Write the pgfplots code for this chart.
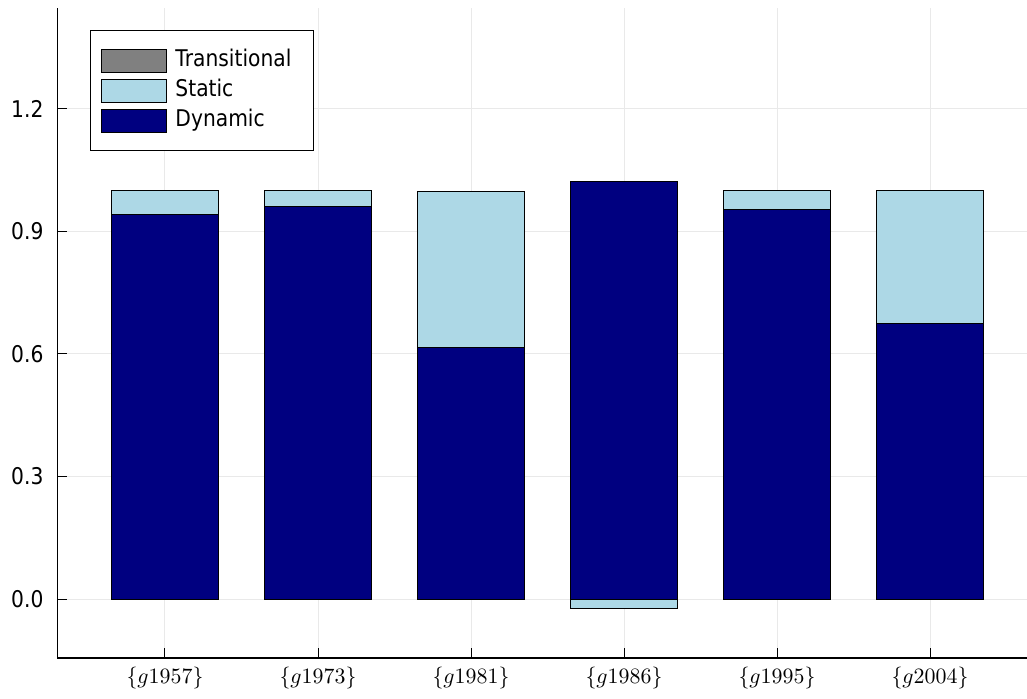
\documentclass[border=0pt]{standalone}
\usepackage{pgfplots}
\pgfplotsset{compat=1.18}
\usepackage{fontspec}
\newfontfamily\plotfont{DejaVu Sans}[FakeStretch=0.88]
\definecolor{jgray}{RGB}{128,128,128}
\definecolor{jlightblue}{RGB}{173,216,230}
\definecolor{jnavy}{RGB}{0,0,128}
\definecolor{gridgray}{RGB}{233,233,233}
\pgfplotsset{
  barleg/.style={legend image code/.code={\draw[##1] (0pt,-5.75pt) rectangle (32.5pt,5.75pt); \path (35pt,0pt);}},
  jbar/.style={bar shift=0pt, draw=black, line width=0.5pt, barleg},
}
\begin{document}
\begin{tikzpicture}
\begin{axis}[
  scale only axis, width=484.75pt, height=325pt,
  xmin=0.2974, xmax=6.634, ymin=-0.1442, ymax=1.4467,
  axis lines=left, axis line style={-, line width=0.6pt},
  ybar, bar width=0.7,
  xtick={1,2,3,4,5,6},
  xticklabels={$\{g1957\}$,$\{g1973\}$,$\{g1981\}$,$\{g1986\}$,$\{g1995\}$,$\{g2004\}$},
  x tick label style={font=\fontsize{11}{13}\selectfont, yshift=-1pt},
  ytick={0,0.3,0.6,0.9,1.2},
  y tick label style={font=\plotfont\fontsize{11.5}{13}\selectfont, xshift=-3.5pt},
  yticklabel style={/pgf/number format/fixed, /pgf/number format/fixed zerofill, /pgf/number format/precision=1, /pgf/number format/assume math mode=true},
  tick align=inside, major tick length=5pt, tick style={black, line width=0.5pt},
  grid=major, major grid style={gridgray, line width=0.5pt},
  legend cell align=left,
  legend style={at={(0.0335,0.966)}, anchor=north west, draw=black, line width=0.5pt,
    font=\plotfont\fontsize{11.5}{13}\selectfont,
    inner xsep=5.25pt, inner ysep=7.5pt, row sep=0pt,
    nodes={inner sep=1.75pt, text height=8.5pt, text depth=3pt}},
]
% Transitional (zero everywhere)
\addplot[jbar, fill=jgray] coordinates {(1,0) (2,0) (3,0) (4,0) (5,0) (6,0)};
\addlegendentry{Transitional\hspace*{4pt}}
% Static: top of the static block (negative for g1986)
\addplot[jbar, fill=jlightblue] coordinates {(1,1.0) (2,1.0) (3,0.998) (4,-0.022) (5,1.0) (6,1.0)};
\addlegendentry{Static}
% Dynamic
\addplot[jbar, fill=jnavy] coordinates {(1,0.941) (2,0.960) (3,0.616) (4,1.021) (5,0.953) (6,0.674)};
\addlegendentry{Dynamic}
\end{axis}
\pgfresetboundingbox
\path[use as bounding box] (-28.75pt,-20pt) rectangle (484.75pt,329pt);
\end{tikzpicture}
\end{document}
